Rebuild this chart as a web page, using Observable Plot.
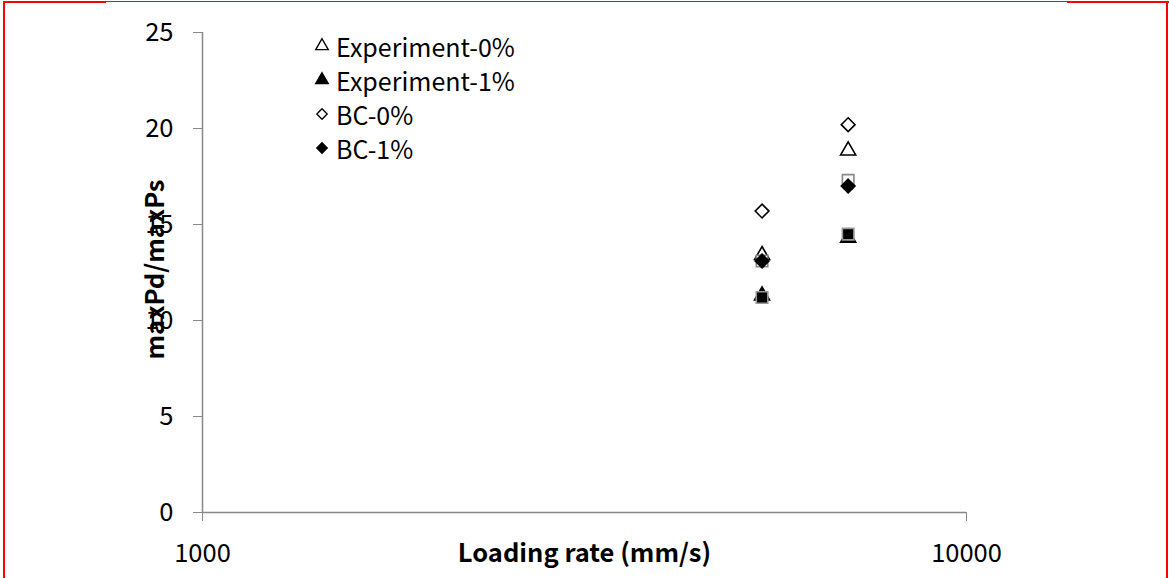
<!DOCTYPE html>
<html><head><meta charset="utf-8">
<script src="https://cdn.jsdelivr.net/npm/d3@7"></script>
<script src="https://cdn.jsdelivr.net/npm/@observablehq/plot@0.6"></script>
<style>
body{margin:0;background:#fff;}
#wrap{position:relative;width:1169px;height:578px;overflow:hidden;font-family:"Noto Sans CJK KR","Noto Sans",sans-serif;background:#fff;}
#legend{position:absolute;left:312px;top:29px;font-size:25px;line-height:34px;color:#000;}
#legend .row{display:flex;align-items:center;height:34px;}
#legend svg{width:20px;height:20px;margin-right:4px;}
.red{position:absolute;background:#f00;}
</style>
</head><body>
<div id="wrap">
<div id="chart"></div>
<div id="legend"></div>
<div class="red" style="left:3px;top:1px;width:2px;height:577px"></div>
<div class="red" style="left:1166px;top:1px;width:2px;height:577px"></div>
<div class="red" style="left:3px;top:1px;width:1166px;height:1px"></div>
<div class="red" style="left:3px;top:1px;width:103px;height:2px"></div>
<div class="red" style="left:1067px;top:1px;width:102px;height:2px"></div>
</div>
<script>
// Data
const loadingRate = [5400, 7000];
const experiment0 = [13.4, 18.85];
const experiment1 = [11.3, 14.3];
const squareOpen = [13.1, 17.3];
const squareFilled = [11.2, 14.5];
const bc0 = [15.7, 20.2];
const bc1 = [13.1, 17.0];
const xTicks = [1000, 10000];
const yTicks = [0, 5, 10, 15, 20, 25];
const legendNames = ["Experiment-0%", "Experiment-1%", "BC-0%", "BC-1%"];

const seriesDefs = [
  {name: "Experiment-0%", values: experiment0, symbol: "triangle", fill: "#fff", stroke: "#000", r: 5.6},
  {name: "Experiment-1%", values: experiment1, symbol: "triangle", fill: "#000", stroke: "#000", r: 5.6},
  {name: "sq-open", values: squareOpen, symbol: "square", fill: "#fff", stroke: "#888", r: 6.5},
  {name: "sq-filled", values: squareFilled, symbol: "square", fill: "#000", stroke: "#999", r: 6.5},
  {name: "BC-0%", values: bc0, symbol: "diamond2", fill: "#fff", stroke: "#000", r: 6.2},
  {name: "BC-1%", values: bc1, symbol: "diamond2", fill: "#000", stroke: "#000", r: 6.2}
];

const font = '"Noto Sans CJK KR","Noto Sans",sans-serif';
const marks = [
  Plot.ruleX([1000], {stroke: "#888", strokeWidth: 1.5}),
  Plot.ruleY([0], {stroke: "#888", strokeWidth: 1.5}),
  Plot.axisY({ticks: yTicks, tickSize: 9, tickPadding: 20, stroke: "#888", fontSize: 25.5, fill: "#000", label: null}),
  Plot.axisX({ticks: xTicks, tickFormat: d => String(d), tickSize: 9, tickPadding: 22, stroke: "#888", fontSize: 25.5, fill: "#000", label: null}),
  Plot.text(["Loading rate (mm/s)"], {frameAnchor: "bottom", dy: 49, fontSize: 25.5, fontWeight: "bold", fill: "#000"}),
  Plot.text(["maxPd/maxPs"], {frameAnchor: "left", textAnchor: "middle", dx: -47, dy: -3, rotate: -90, fontSize: 25.5, fontWeight: "bold", fill: "#000"})
];
for (const s of seriesDefs) {
  const rows = loadingRate.map((x, i) => ({x, y: s.values[i]}));
  marks.push(Plot.dot(rows, {x: "x", y: "y", symbol: () => s.symbol, r: s.r, fill: s.fill, stroke: s.stroke, strokeWidth: 1.6}));
}

const chart = Plot.plot({
  width: 1169, height: 578,
  marginLeft: 202, marginRight: 203, marginTop: 32, marginBottom: 66,
  style: {fontFamily: font, background: "transparent"},
  x: {type: "log", domain: [1000, 10000]},
  y: {domain: [0, 25]},
  symbol: {type: "identity"},
  marks
});
document.getElementById("chart").appendChild(chart);

// Legend
const leg = document.getElementById("legend");
for (const name of legendNames) {
  const s = seriesDefs.find(d => d.name === name);
  const symMap = {triangle: d3.symbolTriangle, diamond2: d3.symbolDiamond2};
  const path = d3.symbol(symMap[s.symbol], s.symbol === "triangle" ? 68 : 68)();
  const row = document.createElement("div");
  row.className = "row";
  row.innerHTML = `<svg viewBox="-10 -10 20 20"><path d="${path}" fill="${s.fill}" stroke="${s.stroke}" stroke-width="1.4"/></svg><span>${name}</span>`;
  leg.appendChild(row);
}
</script>
</body></html>
